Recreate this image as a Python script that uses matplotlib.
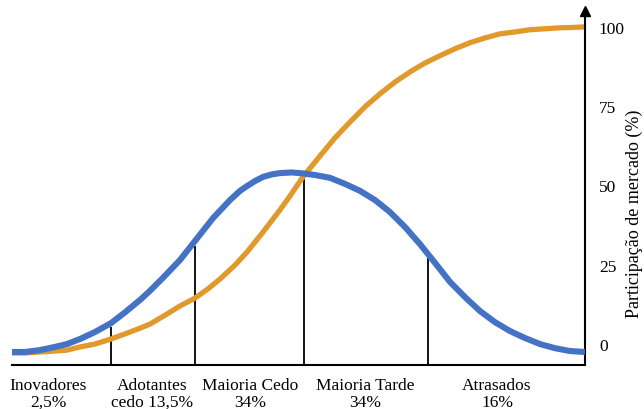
import matplotlib
matplotlib.use("Agg")
import matplotlib.pyplot as plt
import matplotlib.transforms as mtransforms

# curva de adocao (sino), eixo x sem unidade
x_adocao = [0, 13, 28, 43, 55, 68, 83, 99, 113, 128, 138, 151, 168, 183, 201, 218,
            228, 235, 243, 251, 260, 268, 280, 291, 303, 318, 333, 348, 363, 378,
            393, 408, 423, 438, 453, 468, 483, 498, 513, 528, 543, 558, 573]
y_adocao = [-2.5, -2.5, -1.9, -0.9, 0, 1.6, 3.8, 6.6, 10.0, 13.9, 16.8, 20.9, 26.5,
            32.5, 39.7, 45.4, 48.3, 49.8, 51.4, 52.7, 53.5, 53.9, 54.1, 53.8, 53.3,
            52.4, 50.5, 48.3, 45.4, 41.6, 36.9, 31.5, 25.6, 19.6, 14.8, 10.4, 6.9,
            4.1, 1.9, 0, -1.3, -2.2, -2.5]

# participacao de mercado acumulada (curva S)
x_mercado = [0, 13, 28, 43, 55, 68, 83, 99, 113, 128, 138, 153, 168, 183, 196, 208,
             223, 235, 251, 268, 278, 291, 300, 308, 323, 338, 353, 368, 383, 398,
             413, 428, 443, 458, 473, 488, 503, 518, 533, 548, 560, 573]
y_mercado = [-2.8, -2.8, -2.5, -2.2, -1.9, -0.9, 0, 1.6, 3.2, 5.0, 6.3, 9.1, 12.0,
             14.5, 17.4, 20.5, 24.9, 29.0, 35.3, 42.3, 46.7, 52.7, 56.2, 59.3, 65.0,
             70.0, 74.8, 78.9, 82.6, 85.8, 88.6, 90.9, 93.1, 95.0, 96.5, 97.8, 98.4,
             99.1, 99.4, 99.7, 99.8, 100]

# divisoes entre as categorias
x_divisoes = [99, 183, 292, 416]
y_divisoes = [5.4, 30.9, 53.0, 27.1]

categorias = ["Inovadores\n2,5%", "Adotantes\ncedo 13,5%", "Maioria Cedo\n34%",
              "Maioria Tarde\n34%", "Atrasados\n16%"]
x_categorias = [36, 140, 238, 353, 485]

yticks = [0, 25, 50, 75, 100]

plt.rcParams['font.family'] = ['Liberation Serif', 'DejaVu Serif']

fig = plt.figure(figsize=(6.44, 4.10), dpi=100)
ax = fig.add_axes([12 / 644, 1 - 366 / 410, 573 / 644, 354 / 410])

ymin, ymax = -6.6, 105
ax.set_xlim(0, 573)
ax.set_ylim(ymin, ymax)

ax.plot(x_mercado, y_mercado, color='#E1992C', lw=3.8, solid_capstyle='butt',
        solid_joinstyle='round', zorder=2)
ax.plot(x_adocao, y_adocao, color='#4472C4', lw=4.4, solid_capstyle='butt',
        solid_joinstyle='round', zorder=3)

ax.vlines(x_divisoes, ymin, y_divisoes, color='black', lw=1.3, zorder=1)

for s in ['top', 'left']:
    ax.spines[s].set_visible(False)
ax.spines['bottom'].set_linewidth(1.5)
ax.spines['right'].set_linewidth(1.5)
ax.plot(1, 1, '^k', markersize=7, transform=ax.transAxes, clip_on=False)

ax.set_xticks([])
ax.yaxis.tick_right()
ax.set_yticks(yticks)
ax.set_yticklabels([str(t) for t in yticks])
ax.tick_params(axis='y', length=0, pad=10, labelsize=12.5)
ax.yaxis.set_label_position('right')
ax.set_ylabel("Participação de mercado (%)", fontsize=13)
ax.yaxis.set_label_coords(1.071, 0.43)

trans = mtransforms.blended_transform_factory(ax.transData, ax.transAxes)
for xc, lab in zip(x_categorias, categorias):
    ax.text(xc, -0.035, lab, transform=trans, ha='center', va='top',
            fontsize=12.5, linespacing=1.05)

fig.savefig("out.png", dpi=100)
